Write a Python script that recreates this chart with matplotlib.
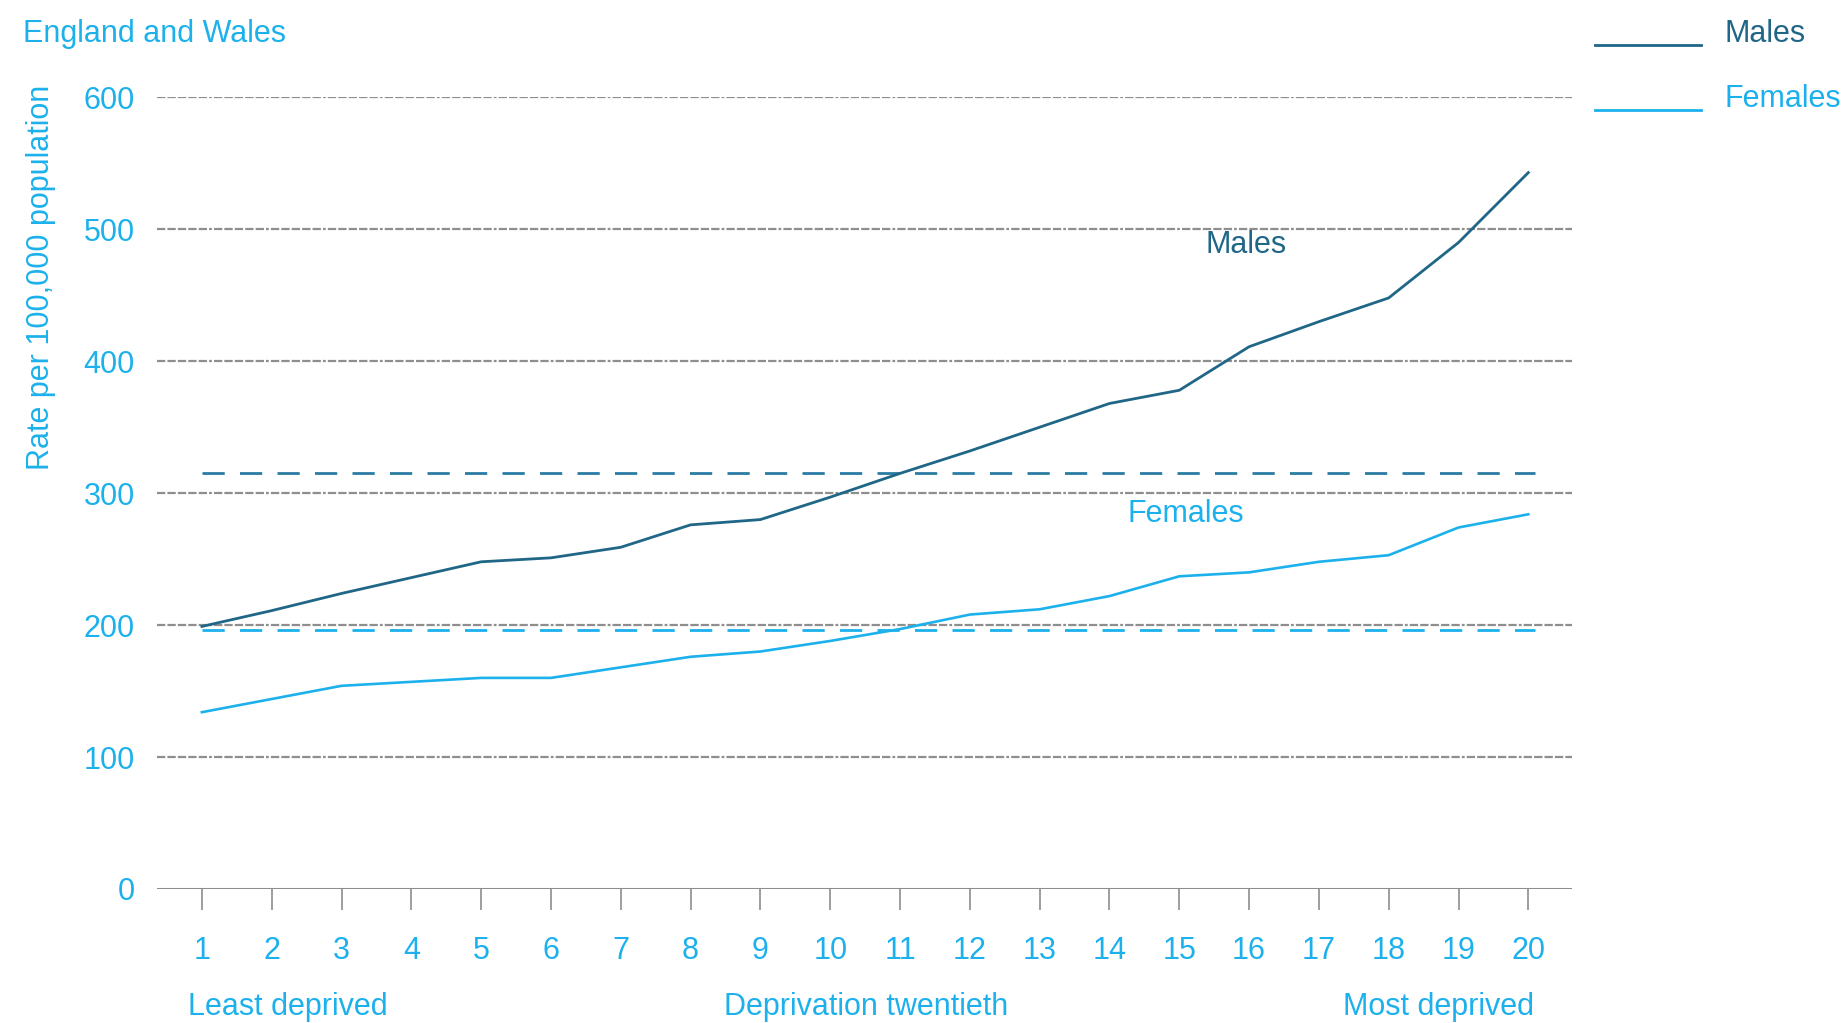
import matplotlib
matplotlib.use("Agg")
import matplotlib.pyplot as plt
from matplotlib.lines import Line2D

plt.rcParams["font.family"] = ["Liberation Sans", "DejaVu Sans"]
plt.rcParams["lines.scale_dashes"] = False

# deprivation twentieths, 1 = least deprived
twentieth = list(range(1, 21))
males = [199, 211, 224, 236, 248, 251, 259, 276, 280, 297,
         315, 332, 350, 368, 378, 411, 430, 448, 490, 543]
females = [134, 144, 154, 157, 160, 160, 168, 176, 180, 188,
           197, 208, 212, 222, 237, 240, 248, 253, 274, 284]
male_avg = 315
female_avg = 196
y_ticks = [0, 100, 200, 300, 400, 500, 600]

light_blue = "#1cb1ec"
male_col = "#1f6687"
male_avg_col = "#2a7ca5"
grid_col = "#8e8e8e"
FS = 22

fig = plt.figure(figsize=(18.42, 10.23), dpi=100)
ax = fig.add_axes([0.0852, 0.131, 0.768, 0.7738])

# dash-dot gridlines: five dashes then a dot
grid_dash = (0, (6, 1.5) * 5 + (2, 1.5))
for v in y_ticks[1:]:
    ax.axhline(v, color=grid_col, linewidth=1.6, linestyle=grid_dash, zorder=1)
ax.axhline(0, color=grid_col, linewidth=2.2, zorder=2)

# England & Wales averages
avg_dash = (0, (16, 11))
ax.plot([twentieth[0], twentieth[-1] + 0.1], [male_avg, male_avg],
        color=male_avg_col, linewidth=2.0, linestyle=avg_dash, zorder=2)
ax.plot([twentieth[0], twentieth[-1] + 0.1], [female_avg, female_avg],
        color=light_blue, linewidth=2.0, linestyle=avg_dash, zorder=2)

ax.plot(twentieth, males, color=male_col, linewidth=2.0, zorder=3)
ax.plot(twentieth, females, color=light_blue, linewidth=1.9, zorder=3)

ax.text(15.96, 488, "Males", color=male_col, fontsize=FS,
        ha="center", va="center")
ax.text(15.09, 284, "Females", color=light_blue, fontsize=FS,
        ha="center", va="center")

ax.set_xlim(0.356, 20.62)
ax.set_ylim(0, 600)
for s in ax.spines.values():
    s.set_visible(False)

ax.set_xticks(twentieth)
ax.set_xticklabels([str(t) for t in twentieth])
ax.set_yticks(y_ticks)
ax.set_yticklabels([str(v) for v in y_ticks])
ax.tick_params(axis="x", direction="out", length=15, width=1.2,
               color=grid_col, labelcolor=light_blue, labelsize=FS, pad=19)
ax.tick_params(axis="y", length=0, labelcolor=light_blue, labelsize=FS, pad=16)

fig.text(0.0125, 0.967, "England and Wales", color=light_blue, fontsize=FS,
         ha="left", va="center")
fig.text(0.022, 0.729, "Rate per 100,000 population", color=light_blue,
         fontsize=FS, rotation=90, ha="center", va="center")
fig.text(0.102, 0.016, "Least deprived", color=light_blue, fontsize=FS,
         ha="left", va="center")
fig.text(0.470, 0.016, "Deprivation twentieth", color=light_blue, fontsize=FS,
         ha="center", va="center")
fig.text(0.833, 0.016, "Most deprived", color=light_blue, fontsize=FS,
         ha="right", va="center")

# legend in the top right corner
fig.add_artist(Line2D([0.8659, 0.9235], [0.956, 0.956], color=male_col, linewidth=2.0))
fig.add_artist(Line2D([0.8659, 0.9235], [0.892, 0.892], color=light_blue, linewidth=2.0))
fig.text(0.936, 0.967, "Males", color=male_col, fontsize=FS, ha="left", va="center")
fig.text(0.936, 0.903, "Females", color=light_blue, fontsize=FS, ha="left", va="center")

fig.savefig("out.png", dpi=100)
